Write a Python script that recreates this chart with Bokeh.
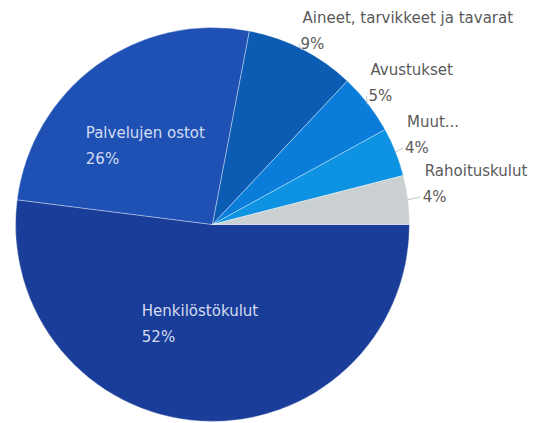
import math
from bokeh.plotting import figure
from bokeh.models import Range1d, ColumnDataSource
from bokeh.core.properties import value
from bokeh.embed import file_html
from bokeh.resources import INLINE

# ---- data ----
categories = ["Henkilöstökulut", "Palvelujen ostot", "Aineet, tarvikkeet ja tavarat",
              "Avustukset", "Muut...", "Rahoituskulut"]
shares = [52, 26, 9, 5, 4, 4]
colors = ["#193d99", "#1f51b5", "#0d5cb4", "#0a7ddb", "#0d93e2", "#cbd0d3"]
inside = [True, True, False, False, False, False]

# ---- layout ----
W, H = 544, 423
cx, cy, R = 212, 423 - 224, 197
FONT = "DejaVu Sans"
FS = "15px"
# label nudges in screen pixels (dx right, dy down) for outside labels
nudge = [(0, 0), (0, 0), (-5, 2), (-6, -3), (2, -1), (7, -2)]

p = figure(width=W, height=H, output_backend="svg", toolbar_location=None,
           x_range=Range1d(0, W), y_range=Range1d(0, H), min_border=0)
p.axis.visible = False
p.grid.visible = False
p.outline_line_color = None
p.background_fill_color = "white"

total = sum(shares)
starts, ends, mids = [], [], []
cum = 0.0
for s in shares:
    a0 = -2 * math.pi * cum / total
    cum += s
    a1 = -2 * math.pi * cum / total
    starts.append(a1)
    ends.append(a0)
    mids.append((a0 + a1) / 2)

src = ColumnDataSource(dict(start=starts, end=ends, color=colors))
p.wedge(x=cx, y=cy, radius=R, start_angle="start", end_angle="end",
        fill_color="color", line_color="white", line_width=0.6, line_alpha=0.6,
        source=src)

pct = [f"{s}%" for s in shares]

for name, pc, m, ins, (dx, dy) in zip(categories, pct, mids, inside, nudge):
    if ins:
        ax = cx + 0.5 * R * math.cos(m)
        ay = cy + 0.5 * R * math.sin(m)
        left = ax - len(name) * 8.6 / 2
        p.text(x=[left], y=[ay + 12], text=[name], text_font=value(FONT),
               text_font_size=FS, text_color="#d3dcf0", text_align="left",
               text_baseline="middle")
        p.text(x=[left], y=[ay - 14], text=[pc], text_font=value(FONT),
               text_font_size=FS, text_color="#d3dcf0", text_align="left",
               text_baseline="middle")
    else:
        ex0 = cx + 0.995 * R * math.cos(m)
        ey0 = cy + 0.995 * R * math.sin(m)
        tx = cx + 1.04 * R * math.cos(m) + dx
        ty = cy + 1.04 * R * math.sin(m) - dy
        p.line(x=[ex0, tx - 2], y=[ey0, ty], line_color="#c4c8cc", line_width=1)
        p.text(x=[tx], y=[ty], text=[pc], text_font=value(FONT),
               text_font_size=FS, text_color="#5a5a5a", text_align="left",
               text_baseline="middle")
        p.text(x=[tx + 2], y=[ty + 26], text=[name], text_font=value(FONT),
               text_font_size=FS, text_color="#5a5a5a", text_align="left",
               text_baseline="middle")

open("out.html", "w").write(file_html(p, INLINE))
